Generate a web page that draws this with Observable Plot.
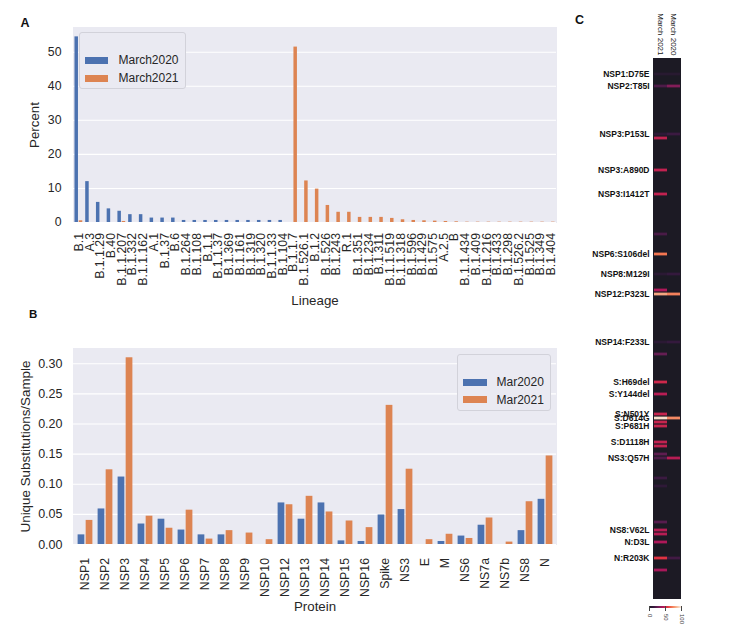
<!DOCTYPE html>
<html><head><meta charset="utf-8">
<script src="https://cdn.jsdelivr.net/npm/d3@7"></script>
<script src="https://cdn.jsdelivr.net/npm/@observablehq/plot@0.6"></script>
<style>
body{margin:0;background:#fff;font-family:"Liberation Sans",Arial,Helvetica,sans-serif;}
#root{position:relative;width:729px;height:627px;overflow:hidden;background:#fff;}
.letter{position:absolute;font-weight:bold;line-height:1;color:#111;}
.legbox{position:absolute;background:#EAEAF2;border:1px solid #d2d2da;border-radius:3px;box-sizing:border-box;}
.sw{position:absolute;width:23px;height:7px;}
.lt{position:absolute;font-size:12px;line-height:14px;color:#262626;white-space:nowrap;}
</style></head><body><div id="root"></div><script>
// ---------- DATA ----------
const seriesA = ["March2020", "March2021"];
const lineages = ["B.1","A.3","B.1.1.29","B.40","B.1.1.207","B.1.332","B.1.1.162","A.1","B.1.37","B.6","B.1.264","B.1.108","B.1.1","B.1.1.37","B.1.369","B.1.161","B.1.319","B.1.320","B.1.1.33","B.1.104","B.1.1.7","B.1.526.1","B.1.2","B.1.526","B.1.243","R.1","B.1.351","B.1.234","B.1.311","B.1.1.519","B.1.1.318","B.1.596","B.1.429","B.1.575","A.2.5","B","B.1.1.434","B.1.409","B.1.1.216","B.1.433","B.1.298","B.1.526.2","B.1.525","B.1.349","B.1.404"];
const lineagePct2020 = [54.5,12.0,5.9,4.0,3.3,2.3,2.3,1.3,1.3,1.3,0.6,0.6,0.6,0.6,0.6,0.6,0.6,0.6,0.6,0.6,0,0,0,0,0,0,0,0,0,0,0,0,0,0,0,0,0,0,0,0,0,0,0,0,0];
const lineagePct2021 = [0.5,0,0,0,0.3,0,0,0,0,0,0,0,0,0,0,0,0,0,0,0,51.5,12.2,9.8,5.0,3.0,3.0,1.5,1.5,1.5,1.2,0.8,0.6,0.5,0.4,0.3,0.2,0.1,0.1,0.1,0.1,0.1,0.1,0.1,0.1,0.1];
const percentTicks = [0,10,20,30,40,50];

const seriesB = ["Mar2020", "Mar2021"];
const proteins = ["NSP1","NSP2","NSP3","NSP4","NSP5","NSP6","NSP7","NSP8","NSP9","NSP10","NSP12","NSP13","NSP14","NSP15","NSP16","Spike","NS3","E","M","NS6","NS7a","NS7b","NS8","N"];
const subs2020 = [0.016,0.059,0.112,0.034,0.042,0.024,0.016,0.016,0,0,0.069,0.042,0.069,0.006,0.005,0.049,0.058,0,0.005,0.014,0.032,0,0.023,0.075];
const subs2021 = [0.040,0.124,0.310,0.047,0.027,0.057,0.009,0.023,0.019,0.008,0.066,0.080,0.054,0.039,0.028,0.231,0.125,0.008,0.017,0.010,0.044,0.004,0.071,0.147];
const subsTicks = [0,0.05,0.10,0.15,0.20,0.25,0.30];

const heatColumns = ["March 2021","March 2020"];
const heatRowCount = 130;
const heatRows = [1,4,16,17,25,31,41,46,51,55,56,68,71,78,81,86,87,88,89,93,94,96,97,102,104,113,115,116,118,122,125];
const heat2021 = [4,15,6,48,48,48,14,75,5,42,88,5,22,52,45,50,98,50,50,48,48,20,15,10,6,18,45,45,42,58,40];
const heat2020 = [4,30,10,0,0,0,0,0,8,0,78,8,0,0,0,0,80,0,0,0,0,0,45,0,0,0,0,0,0,12,0];
const heatLabelRows = [1,4,16,25,31,46,51,56,68,78,81,86,87,89,93,97,115,118,122];
const heatLabels = ["NSP1:D75E","NSP2:T85I","NSP3:P153L","NSP3:A890D","NSP3:I1412T","NSP6:S106del","NSP8:M129I","NSP12:P323L","NSP14:F233L","S:H69del","S:Y144del","S:N501Y","S:D614G","S:P681H","S:D1118H","NS3:Q57H","NS8:V62L","N:D3L","N:R203K"];
const heatColorStops = [0, 8.3, 25, 41.7, 58.3, 75, 91.7, 100];
const heatColors = ["#1c1a24","#35193e","#701f57","#ad1759","#e13342","#f37651","#f6b48f","#faebdd"];
const heatLegendTicks = [0,50,100];

// ---------- STYLE ----------
const FONT = '"Liberation Sans", Arial, Helvetica, sans-serif';
const BLUE = "#4C72B0", ORANGE = "#DD8452", BG = "#EAEAF2", TXT = "#262626";
const root = document.getElementById("root");
function place(el, left, top) { el.style.position = "absolute"; el.style.left = left + "px"; el.style.top = top + "px"; el.style.maxWidth = "none"; root.appendChild(el); return el; }
function div(cls, text) { const d = document.createElement("div"); d.className = cls; if (text != null) d.textContent = text; return d; }

// ---------- PANEL A ----------
const A = {w: 560, h: 310, ml: 73, mr: 4, mt: 27, mb: 88};
const bwA = (A.w - A.ml - A.mr) / lineages.length;
const dA20 = lineages.map((l, i) => ({lineage: l, value: lineagePct2020[i]}));
const dA21 = lineages.map((l, i) => ({lineage: l, value: lineagePct2021[i]}));
const plotA = Plot.plot({
  width: A.w, height: A.h, marginLeft: A.ml, marginRight: A.mr, marginTop: A.mt, marginBottom: A.mb,
  style: {fontFamily: FONT, fontSize: "12.3px", color: TXT, background: "transparent", overflow: "visible"},
  x: {domain: lineages, padding: 0},
  y: {domain: [0, 57.25]},
  marks: [
    Plot.frame({fill: BG, stroke: BG}),
    Plot.gridY({ticks: percentTicks, stroke: "#fff", strokeOpacity: 1, strokeWidth: 1.1}),
    Plot.barY(dA20, {x: "lineage", y: "value", fill: BLUE, insetLeft: 0.1 * bwA + 0.4, insetRight: 0.5 * bwA + 0.4}),
    Plot.barY(dA21, {x: "lineage", y: "value", fill: ORANGE, insetLeft: 0.5 * bwA + 0.4, insetRight: 0.1 * bwA + 0.4}),
    Plot.axisY({ticks: percentTicks, tickSize: 0, tickPadding: 12, label: null}),
    Plot.axisY({ticks: [], label: "Percent", labelAnchor: "center", labelOffset: 44, labelArrow: "none", fontSize: 13.3}),
    Plot.axisX({tickRotate: -90, tickSize: 0, tickPadding: 10.5, label: null}),
    Plot.axisX({ticks: [], label: "Lineage", labelAnchor: "center", labelOffset: 82, labelArrow: "none", fontSize: 13.3})
  ]
});
place(plotA, 0, 0);

// ---------- PANEL B ----------
const B = {w: 560, h: 320, ml: 73, mr: 4, mt: 48, mb: 76};
const bwB = (B.w - B.ml - B.mr) / proteins.length;
const dB20 = proteins.map((p, i) => ({protein: p, value: subs2020[i]}));
const dB21 = proteins.map((p, i) => ({protein: p, value: subs2021[i]}));
const plotB = Plot.plot({
  width: B.w, height: B.h, marginLeft: B.ml, marginRight: B.mr, marginTop: B.mt, marginBottom: B.mb,
  style: {fontFamily: FONT, fontSize: "12.3px", color: TXT, background: "transparent", overflow: "visible"},
  x: {domain: proteins, padding: 0},
  y: {domain: [0, 0.3254]},
  marks: [
    Plot.frame({fill: BG, stroke: BG}),
    Plot.gridY({ticks: subsTicks, stroke: "#fff", strokeOpacity: 1, strokeWidth: 1.1}),
    Plot.barY(dB20, {x: "protein", y: "value", fill: BLUE, insetLeft: 0.1 * bwB + 0.6, insetRight: 0.5 * bwB + 0.6}),
    Plot.barY(dB21, {x: "protein", y: "value", fill: ORANGE, insetLeft: 0.5 * bwB + 0.6, insetRight: 0.1 * bwB + 0.6}),
    Plot.axisY({ticks: subsTicks, tickFormat: d3.format(".2f"), tickSize: 0, tickPadding: 11, label: null, fontSize: 12.5}),
    Plot.axisY({ticks: [], label: "Unique Substitutions/Sample", labelAnchor: "center", labelOffset: 53.5, labelArrow: "none", fontSize: 13.4}),
    Plot.axisX({tickRotate: -90, tickSize: 0, tickPadding: 13.5, label: null}),
    Plot.axisX({ticks: [], label: "Protein", labelAnchor: "center", labelOffset: 66, labelArrow: "none", fontSize: 13.3})
  ]
});
place(plotB, 0, 300);

// ---------- PANEL C ----------
const labelMap = new Map(heatLabelRows.map((r, i) => [r, heatLabels[i]]));
const cellsC = [];
heatRows.forEach((r, i) => {
  if (heat2021[i] > 0) cellsC.push({col: heatColumns[0], row: r, value: heat2021[i]});
  if (heat2020[i] > 0) cellsC.push({col: heatColumns[1], row: r, value: heat2020[i]});
});
const plotC = Plot.plot({
  width: 169, height: 627, marginLeft: 93, marginRight: 49, marginTop: 58, marginBottom: 29,
  style: {fontFamily: FONT, fontSize: "8.5px", color: "#111", background: "transparent", overflow: "visible"},
  x: {domain: heatColumns, padding: 0},
  y: {type: "band", domain: d3.range(heatRowCount), padding: 0},
  color: {type: "linear", domain: heatColorStops, range: heatColors},
  marks: [
    Plot.frame({fill: heatColors[0], stroke: heatColors[0]}),
    Plot.cell(cellsC, {x: "col", y: "row", fill: "value", insetTop: 0.6, insetBottom: 0.6}),
    Plot.axisY({ticks: heatLabelRows, tickFormat: r => labelMap.get(r), tickSize: 0, tickPadding: 4, fontWeight: "bold", label: null}),
    Plot.axisX({anchor: "top", tickRotate: 90, tickSize: 0, tickPadding: 3, label: null, fontSize: 8})
  ]
});
place(plotC, 560, 0);

try {
  const leg = plotC.legend("color", {width: 42, height: 26, marginLeft: 5, marginRight: 5, marginTop: 4, marginBottom: 20,
    ticks: heatLegendTicks, tickSize: 3, label: null,
    style: {fontFamily: FONT, fontSize: "6px", color: "#444", background: "transparent", overflow: "visible"}});
  leg.querySelectorAll(".tick text").forEach(t => {
    t.setAttribute("y", 0); t.setAttribute("dy", "0.32em");
    t.setAttribute("transform", "translate(0,6) rotate(90)");
    t.setAttribute("text-anchor", "start");
  });
  place(leg, 644, 602);
} catch (e) { console.error(e); }

// ---------- LETTERS & LEGENDS ----------
const la = place(div("letter", "A"), 20.5, 16.5); la.style.fontSize = "12.5px";
const lb = place(div("letter", "B"), 29, 308.5); lb.style.fontSize = "11.5px";
const lc = place(div("letter", "C"), 575, 13.5); lc.style.fontSize = "12.5px";

function legend(names, box, rows, swLeft, swW, txtLeft) {
  const b = place(div("legbox"), box[0], box[1]); b.style.width = box[2] + "px"; b.style.height = box[3] + "px";
  names.forEach((n, i) => {
    const s = place(div("sw"), swLeft, rows[i] - 3.5); s.style.background = i === 0 ? BLUE : ORANGE; s.style.width = swW + "px";
    place(div("lt", n), txtLeft, rows[i] - 7);
  });
}
legend(seriesA, [79, 32, 107, 57], [60, 78], 85, 23, 118.5);
legend(seriesB, [457, 354, 94, 57], [382, 399.5], 463, 24, 496.5);
</script></body></html>
